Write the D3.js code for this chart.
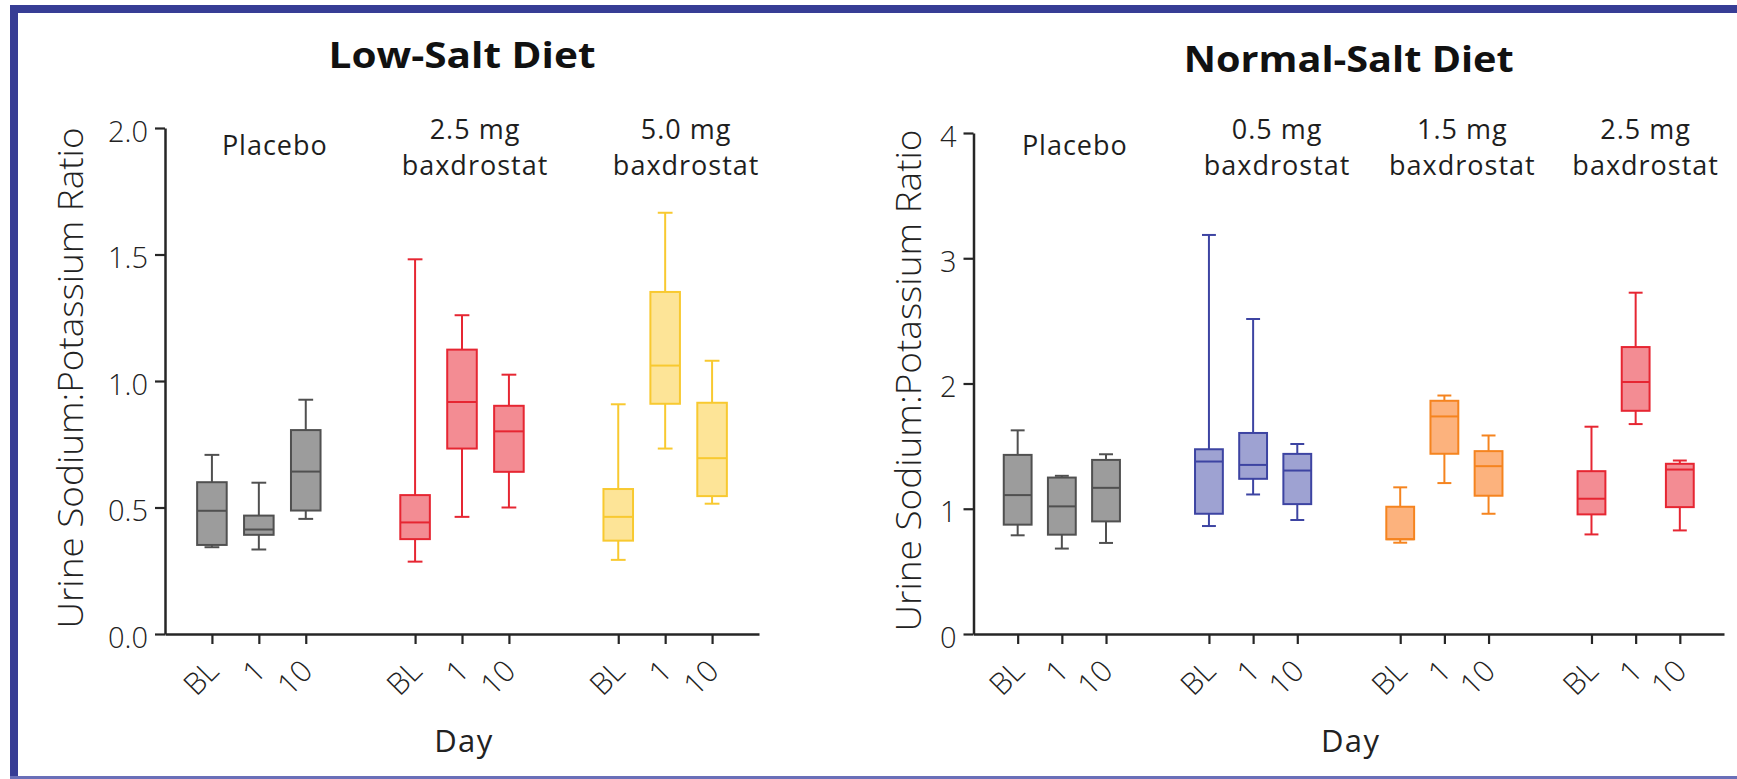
<!DOCTYPE html>
<html>
<head>
<meta charset="utf-8">
<script src="https://cdn.jsdelivr.net/npm/d3@7"></script>
<style>
  html, body { margin: 0; padding: 0; background: #ffffff; overflow: hidden; }
  svg { display: block; }
  text { font-family: "Open Sans", "Noto Sans", sans-serif; fill: #1e1e1e; }
</style>
</head>
<body>
<svg id="chart" width="1737" height="779"></svg>
<script>
// Sampling days shown under every treatment group
const days = ["BL", "1", "10"];

// Box statistics per day: [whisker low, Q1, median, Q3, whisker high]
// Low-salt diet
const lowSaltGroups = [["Placebo"], ["2.5 mg", "baxdrostat"], ["5.0 mg", "baxdrostat"]];
const lowPlacebo = [[0.343, 0.352, 0.487, 0.600, 0.708], [0.334, 0.392, 0.413, 0.468, 0.598], [0.455, 0.488, 0.642, 0.806, 0.926]];
const low25mg    = [[0.286, 0.375, 0.441, 0.549, 1.481], [0.463, 0.733, 0.917, 1.124, 1.260], [0.500, 0.641, 0.801, 0.902, 1.025]];
const low50mg    = [[0.293, 0.369, 0.463, 0.573, 0.908], [0.733, 0.910, 1.061, 1.352, 1.665], [0.515, 0.545, 0.695, 0.914, 1.080]];
const lowTicks = [0, 0.5, 1.0, 1.5, 2.0];

// Normal-salt diet
const normalSaltGroups = [["Placebo"], ["0.5 mg", "baxdrostat"], ["1.5 mg", "baxdrostat"], ["2.5 mg", "baxdrostat"]];
const normPlacebo = [[0.788, 0.873, 1.109, 1.430, 1.626], [0.682, 0.793, 1.019, 1.249, 1.263], [0.727, 0.899, 1.167, 1.390, 1.435]];
const norm05mg    = [[0.862, 0.960, 1.377, 1.475, 3.186], [1.114, 1.239, 1.350, 1.605, 2.515], [0.910, 1.037, 1.305, 1.438, 1.517]];
const norm15mg    = [[0.729, 0.756, 0.757, 1.016, 1.171], [1.205, 1.439, 1.737, 1.862, 1.904], [0.960, 1.104, 1.340, 1.460, 1.585]];
const norm25mg    = [[0.795, 0.955, 1.080, 1.300, 1.655], [1.676, 1.782, 2.012, 2.291, 2.725], [0.827, 1.013, 1.313, 1.359, 1.385]];
const normTicks = [0, 1, 2, 3, 4];

// Colour per treatment: fill / outline
const palette = {
  gray:   { fill: "#9c9c9c", stroke: "#505050" },
  red:    { fill: "#f38c93", stroke: "#e62632" },
  yellow: { fill: "#fde497", stroke: "#f8c930" },
  blue:   { fill: "#9ea2d2", stroke: "#3d44a2" },
  orange: { fill: "#fcb27d", stroke: "#f5841f" }
};

const svg = d3.select("#chart");

// Page background and frame around the figure
svg.append("rect").attr("x", 0).attr("y", 0).attr("width", 1737).attr("height", 779).attr("fill", "#ffffff");
const frame = "#373d95";
svg.append("rect").attr("x", 10).attr("y", 5).attr("width", 1727).attr("height", 8).attr("fill", frame);
svg.append("rect").attr("x", 10).attr("y", 5).attr("width", 8).attr("height", 774).attr("fill", frame);
svg.append("rect").attr("x", 10).attr("y", 776).attr("width", 1727).attr("height", 3).attr("fill", "#6a6fb8");

const groupStride = 4.33;   // distance between group starts, in day units
const axisY = 634;

const panels = [
  {
    title: "Low-Salt Diet", titleY: 68, titleLen: 267,
    groups: lowSaltGroups, boxes: [lowPlacebo, low25mg, low50mg],
    colors: [palette.gray, palette.red, palette.yellow],
    yMax: 2, ticks: lowTicks, fmt: d3.format(".1f"), yTop: 128,
    xLeft: 165, xRight: 759, labelNudge: [16, 13, 21],
    yLabelX: 83, yLabelLen: 501
  },
  {
    title: "Normal-Salt Diet", titleY: 72, titleLen: 330,
    groups: normalSaltGroups, boxes: [normPlacebo, norm05mg, norm15mg, norm25mg],
    colors: [palette.gray, palette.blue, palette.orange, palette.red],
    yMax: 4, ticks: normTicks, fmt: d3.format("d"), yTop: 133,
    xLeft: 973.5, xRight: 1724, labelNudge: [13, 24, 18, 10],
    yLabelX: 921, yLabelLen: 502
  }
];

panels.forEach(p => {
  const nG = p.groups.length;
  const x = d3.scaleLinear()
    .domain([-1, (nG - 1) * groupStride + days.length])
    .range([p.xLeft, p.xRight]);
  const y = d3.scaleLinear().domain([0, p.yMax]).range([axisY, p.yTop]);
  const unit = x(1) - x(0);
  const boxW = unit * 0.63;
  const capW = boxW * 0.5;
  const cx = (p.xLeft + p.xRight) / 2;
  const g = svg.append("g");

  // Title
  g.append("text")
    .attr("x", cx).attr("y", p.titleY)
    .attr("text-anchor", "middle")
    .attr("textLength", p.titleLen).attr("lengthAdjust", "spacingAndGlyphs")
    .style("font-size", "35px").style("font-weight", 700).style("fill", "#111")
    .text(p.title);

  // Treatment labels above each group
  p.groups.forEach((lines, gi) => {
    const lx = x(gi * groupStride + 1) + p.labelNudge[gi];
    const t = g.append("text")
      .attr("text-anchor", "middle")
      .style("font-size", "27px").style("letter-spacing", "1px");
    if (lines.length === 1) {
      t.append("tspan").attr("x", lx).attr("y", 155).text(lines[0]);
    } else {
      t.append("tspan").attr("x", lx).attr("y", 139).text(lines[0]);
      t.append("tspan").attr("x", lx).attr("y", 175).text(lines[1]);
    }
  });

  // Tick positions on the x axis: one per group/day
  const tickPos = [], tickText = [];
  p.groups.forEach((_, gi) => days.forEach((d, di) => {
    tickPos.push(gi * groupStride + di);
    tickText.push(d);
  }));

  // Axes
  const yAxis = g.append("g")
    .attr("transform", `translate(${p.xLeft},0)`)
    .call(d3.axisLeft(y).tickValues(p.ticks).tickFormat(p.fmt).tickSize(10).tickSizeOuter(0).tickPadding(7));
  const xAxis = g.append("g")
    .attr("transform", `translate(0,${axisY})`)
    .call(d3.axisBottom(x).tickValues(tickPos).tickFormat((d, i) => tickText[i]).tickSize(10).tickSizeOuter(0));

  [yAxis, xAxis].forEach(a => {
    a.select(".domain").attr("stroke", "#262626").attr("stroke-width", 2.5);
    a.selectAll(".tick line").attr("stroke", "#262626").attr("stroke-width", 2.2);
  });
  yAxis.selectAll(".tick text")
    .attr("dy", "0.45em")
    .style("font-size", "29px").style("font-weight", 300).style("fill", "#222");
  xAxis.selectAll(".tick text")
    .attr("x", 0).attr("y", 0).attr("dy", 0)
    .attr("transform", "translate(8,39) rotate(-45)")
    .attr("text-anchor", "end")
    .style("font-size", "30px").style("font-weight", 300).style("fill", "#222");

  // Axis titles
  g.append("text")
    .attr("transform", `translate(${p.yLabelX},${(axisY + p.yTop) / 2 - 3}) rotate(-90)`)
    .attr("text-anchor", "middle")
    .attr("textLength", p.yLabelLen).attr("lengthAdjust", "spacingAndGlyphs")
    .style("font-size", "35px").style("font-weight", 300).style("fill", "#222")
    .text("Urine Sodium:Potassium Ratio");
  g.append("text")
    .attr("x", cx + 2).attr("y", 752)
    .attr("text-anchor", "middle")
    .style("font-size", "31px").style("letter-spacing", "1.5px").style("fill", "#222")
    .text("Day");

  // Box plots
  p.boxes.forEach((series, gi) => {
    const col = p.colors[gi];
    series.forEach((s, di) => {
      const [lo, q1, med, q3, hi] = s;
      const bx = x(gi * groupStride + di);
      const bg = g.append("g")
        .attr("stroke", col.stroke).attr("stroke-width", 2).attr("fill", "none");
      bg.append("line").attr("x1", bx).attr("x2", bx).attr("y1", y(hi)).attr("y2", y(lo));
      bg.append("line").attr("x1", bx - capW / 2).attr("x2", bx + capW / 2).attr("y1", y(hi)).attr("y2", y(hi));
      bg.append("line").attr("x1", bx - capW / 2).attr("x2", bx + capW / 2).attr("y1", y(lo)).attr("y2", y(lo));
      bg.append("rect")
        .attr("x", bx - boxW / 2).attr("width", boxW)
        .attr("y", y(q3)).attr("height", y(q1) - y(q3))
        .attr("fill", col.fill);
      bg.append("line").attr("x1", bx - boxW / 2).attr("x2", bx + boxW / 2).attr("y1", y(med)).attr("y2", y(med));
    });
  });
});
</script>
</body>
</html>
